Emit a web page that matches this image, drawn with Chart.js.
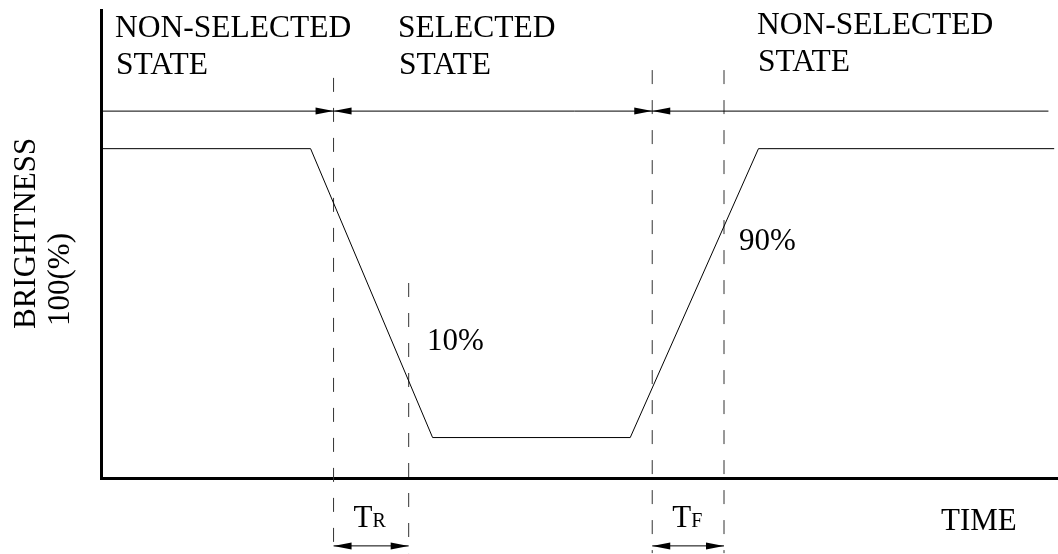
<!DOCTYPE html>
<html>
<head>
<meta charset="utf-8">
<script src="https://cdn.jsdelivr.net/npm/chart.js@4"></script>
<style>
  html, body { margin: 0; padding: 0; background: #fff; }
  .wrap { width: 1058px; height: 554px; }
</style>
</head>
<body>
<div class="wrap"><canvas id="graph" width="1058" height="554"></canvas></div>
<script>
// brightness curve (time units 0..100, brightness in %)
const signalTime = [0, 21.9, 34.65, 55.3, 68.7, 99.6];
const signalLevel = [100, 100, 0, 0, 100, 100];

// dashed marker lines: 90% / 10% crossings
const markerTime = [24.3, 32.15, 57.6, 65.1];
const markerTop = [124.5, 53.5, 127.2, 127.2];
const markerBottom = -40;

// state divider line and its arrows
const stateLevel = 113;
const stateEnd = 99;
const stateBreaks = [24.3, 57.6];

// TR / TF spans under the axis
const spanLevel = -37.5;
const spanFrom = [24.3, 57.6];
const spanTo = [32.15, 65.1];
const spanMain = ["T", "T"];
const spanSub = ["R", "F"];

const stateLabels = [["NON-SELECTED", "STATE"], ["SELECTED", "STATE"], ["NON-SELECTED", "STATE"]];
const levelLabels = ["10%", "90%"];
const yTitle = ["BRIGHTNESS", "100(%)"];
const xTitle = "TIME";

const FONT = "'Liberation Serif', 'Times New Roman', serif";

function arrowHead(ctx, tipX, y, dir) {
  // dir = +1 points right, -1 points left
  const len = 18, half = 3.5;
  ctx.beginPath();
  ctx.moveTo(tipX, y);
  ctx.lineTo(tipX - dir * len, y - half);
  ctx.lineTo(tipX - dir * len, y + half);
  ctx.closePath();
  ctx.fill();
}

const annotate = {
  id: "annotate",
  afterDraw(chart) {
    const ctx = chart.ctx;
    const x = chart.scales.x, y = chart.scales.y;
    ctx.save();
    ctx.fillStyle = "#000";
    ctx.strokeStyle = "#000";

    // arrows meeting on the state line
    const sy = y.getPixelForValue(stateLevel);
    stateBreaks.forEach((t) => {
      const px = x.getPixelForValue(t);
      arrowHead(ctx, px, sy, 1);
      arrowHead(ctx, px, sy, -1);
    });

    // TR / TF double arrows
    const by = y.getPixelForValue(spanLevel);
    ctx.lineWidth = 1;
    spanFrom.forEach((t, i) => {
      const a = x.getPixelForValue(t), b = x.getPixelForValue(spanTo[i]);
      ctx.beginPath();
      ctx.moveTo(a, by);
      ctx.lineTo(b, by);
      ctx.stroke();
      arrowHead(ctx, a, by, -1);
      arrowHead(ctx, b, by, 1);
      // label
      ctx.font = "31px " + FONT;
      ctx.textBaseline = "alphabetic";
      ctx.textAlign = "left";
      const tx = a + 20;
      ctx.fillText(spanMain[i], tx, 527);
      const w = ctx.measureText(spanMain[i]).width;
      ctx.font = "20px " + FONT;
      ctx.fillText(spanSub[i], tx + w, 527);
    });

    // state labels
    ctx.font = "31.5px " + FONT;
    ctx.textAlign = "left";
    ctx.textBaseline = "alphabetic";
    const lx = [115, 398, 757];
    const ly = [37, 37, 34];
    stateLabels.forEach((lines, i) => {
      lines.forEach((s, j) => ctx.fillText(s, lx[i] + (j ? 1 : 0), ly[i] + j * 37));
    });

    // level labels
    ctx.font = "31px " + FONT;
    ctx.fillText(levelLabels[0], 427, 350);
    ctx.fillText(levelLabels[1], 739, 250);

    // axis titles
    ctx.fillText(xTitle, 941, 530);
    ctx.save();
    ctx.translate(35, 329);
    ctx.rotate(-Math.PI / 2);
    ctx.fillText(yTitle[0], 0, 0);
    ctx.restore();
    ctx.save();
    ctx.translate(69, 326);
    ctx.rotate(-Math.PI / 2);
    ctx.fillText(yTitle[1], 0, 0);
    ctx.restore();

    ctx.restore();
  }
};

const datasets = [
  {
    data: signalTime.map((t, i) => ({ x: t, y: signalLevel[i] })),
    borderColor: "#000",
    borderWidth: 1,
  },
  {
    data: [{ x: 0, y: stateLevel }, { x: stateEnd, y: stateLevel }],
    borderColor: "#000",
    borderWidth: 1,
  },
];
markerTime.forEach((t, i) => {
  datasets.push({
    data: [{ x: t, y: markerTop[i] }, { x: t, y: markerBottom }],
    borderColor: "#333",
    borderWidth: 1,
    borderDash: [14, 16],
    clip: false,
  });
});

new Chart(document.getElementById("graph"), {
  type: "scatter",
  data: { datasets: datasets },
  options: {
    responsive: false,
    animation: false,
    showLine: true,
    elements: { point: { radius: 0, hoverRadius: 0 }, line: { tension: 0 } },
    layout: { padding: { left: 101, top: 10, right: 0, bottom: 76 } },
    scales: {
      x: {
        type: "linear", min: 0, max: 100,
        ticks: { display: false },
        grid: { display: false, drawTicks: false },
        border: { display: true, width: 3, color: "#000" },
      },
      y: {
        type: "linear", min: -14, max: 148,
        ticks: { display: false },
        grid: { display: false, drawTicks: false },
        border: { display: true, width: 3, color: "#000" },
      },
    },
    plugins: { legend: { display: false }, tooltip: { enabled: false } },
  },
  plugins: [annotate],
});
</script>
</body>
</html>
